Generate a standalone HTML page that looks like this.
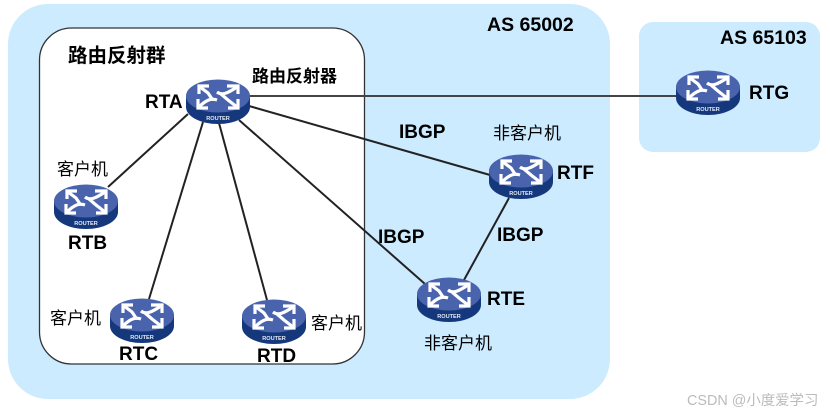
<!DOCTYPE html>
<html>
<head>
<meta charset="utf-8">
<style>
html,body{margin:0;padding:0;background:#fff;width:830px;height:415px;overflow:hidden}
svg{display:block}
text{font-family:"Liberation Sans","Noto Sans CJK SC",sans-serif;fill:#000}
.b{font-weight:bold}
</style>
</head>
<body>
<svg width="830" height="415" viewBox="0 0 830 415" xmlns="http://www.w3.org/2000/svg">
<defs>
<g id="r">
<ellipse cx="32" cy="28" rx="32" ry="17" fill="#15387c"/>
<rect x="0" y="17" width="64" height="11" fill="#15387c"/>
<ellipse cx="32" cy="17" rx="32" ry="16.5" fill="#4a63ad"/>
<g fill="none" stroke="#fff" stroke-width="3.2">
<path d="M13 15V7H23"/><path d="M14 8L22 14L26 20"/>
<path d="M41 7H52V15"/><path d="M31 13C36 17 42 14 51 8"/>
<path d="M12 20V29H22"/><path d="M13 28C20 21 25 19 31 21"/>
<path d="M42 29H52V20"/><path d="M35 15L42 21L51 28"/>
</g>
<text x="32" y="41" font-size="5.6" class="b" text-anchor="middle" style="fill:#e6ebf7">ROUTER</text>
</g>
</defs>

<rect x="8" y="4" width="602" height="395" rx="40" fill="#ccebff"/>
<rect x="639" y="22" width="181" height="130" rx="14" fill="#ccebff"/>
<rect x="39.5" y="28" width="325" height="336" rx="32" fill="#fff" stroke="#333" stroke-width="1.3"/>

<g stroke="#222" stroke-width="2" fill="none">
<path d="M249 96H677" stroke="#444"/>
<path d="M249 106L490 175"/>
<path d="M188 114L108 187"/>
<path d="M203 122L149 299"/>
<path d="M219 123L267 300"/>
<path d="M239 120L425 284"/>
<path d="M464 280L509 198"/>
</g>

<use href="#r" x="186" y="79"/>
<use href="#r" x="54" y="184"/>
<use href="#r" x="110" y="298"/>
<use href="#r" x="242" y="299"/>
<use href="#r" x="417" y="277"/>
<use href="#r" x="489" y="154"/>
<use href="#r" x="676" y="70"/>

<text x="487" y="31" font-size="19.5" class="b">AS 65002</text>
<text x="720" y="44" font-size="19.5" class="b">AS 65103</text>
<text x="68" y="62" font-size="19.5" class="b">路由反射群</text>
<text x="252" y="82" font-size="17" class="b">路由反射器</text>

<text x="145" y="108" font-size="19" class="b">RTA</text>
<text x="68" y="249" font-size="19" class="b">RTB</text>
<text x="119" y="360" font-size="19" class="b">RTC</text>
<text x="257" y="362" font-size="19" class="b">RTD</text>
<text x="487" y="305" font-size="19" class="b">RTE</text>
<text x="557" y="179" font-size="19" class="b">RTF</text>
<text x="749" y="99" font-size="19" class="b">RTG</text>

<text x="399" y="138" font-size="19" class="b">IBGP</text>
<text x="378" y="243" font-size="19" class="b">IBGP</text>
<text x="497" y="241" font-size="19" class="b">IBGP</text>

<text x="57" y="175" font-size="17">客户机</text>
<text x="50" y="324" font-size="17">客户机</text>
<text x="311" y="329" font-size="17">客户机</text>
<text x="493" y="139" font-size="17">非客户机</text>
<text x="424" y="349" font-size="17">非客户机</text>

<text x="687" y="405" font-size="14.4" style="fill:#bbbbbb">CSDN @小度爱学习</text>
</svg>
</body>
</html>
